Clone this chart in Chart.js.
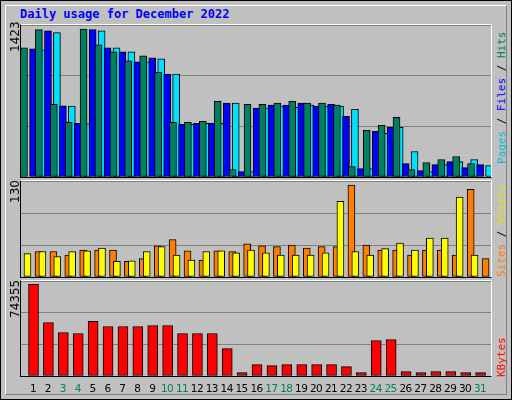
<!DOCTYPE html>
<html>
<head>
<meta charset="utf-8">
<script src="https://cdn.jsdelivr.net/npm/chart.js@4"></script>
<style>
  body { margin: 0; background: #fff; }
  #frame { position: absolute; left: 0; top: 0; width: 510px; height: 398px; background: #c0c0c0; border: 1px solid #000; }
  #inner { position: absolute; left: 4px; top: 4px; width: 502px; height: 390px; border-top: 1px solid #fff; border-left: 1px solid #fff; border-right: 1px solid #808080; border-bottom: 1px solid #808080; box-sizing: border-box; }
  .panel { position: absolute; left: 20px; width: 470px; border-left: 1px solid #000; border-top: 1px solid #fff; border-right: 1px solid #fff; border-bottom: 1px solid #000; }
  .txt { position: absolute; font-family: "DejaVu Sans Mono", monospace; font-size: 11px; white-space: nowrap; }
  .rot { transform-origin: left top; transform: rotate(-90deg); }
  .day { position: absolute; top: 382px; width: 20px; margin-left: -10px; text-align: center; font-family: "DejaVu Sans", sans-serif; font-size: 10.5px; letter-spacing: -0.6px; }
</style>
</head>
<body>
<div id="frame"><div id="inner"></div></div>
<div class="txt" style="left:20px;top:7px;color:#0000ff;font-weight:bold;font-size:12px;">Daily usage for December 2022</div>
<div class="panel" style="top:24px;height:152px;"><canvas id="c1"></canvas></div>
<div class="panel" style="top:180px;height:96px;"><canvas id="c2"></canvas></div>
<div class="panel" style="top:280px;height:95px;"><canvas id="c3"></canvas></div>
<div class="txt rot" style="left:8px;top:52px;font-family:'DejaVu Sans',sans-serif;font-size:12px;">1423</div>
<div class="txt rot" style="left:8px;top:203px;font-family:'DejaVu Sans',sans-serif;font-size:12px;">130</div>
<div class="txt rot" style="left:8px;top:318px;font-family:'DejaVu Sans',sans-serif;font-size:12px;">74355</div>
<div class="txt rot" style="left:495px;top:164px;"><span style="color:#00c0d0">Pages</span> / <span style="color:#0000ff">Files</span> / <span style="color:#008060">Hits</span></div>
<div class="txt rot" style="left:495px;top:277px;"><span style="color:#ff8000">Sites</span> / <span style="color:#e0e000">Visits</span></div>
<div class="txt rot" style="left:495px;top:377px;color:#ff0000;">KBytes</div>
<div id="days"></div>
<script>
const days = [1,2,3,4,5,6,7,8,9,10,11,12,13,14,15,16,17,18,19,20,21,22,23,24,25,26,27,28,29,30,31];
const weekendDays = [3,4,10,11,17,18,24,25,31];
const hits = [1242,1417,700,526,1423,1271,1204,1117,1165,1010,526,526,536,729,71,700,700,710,729,710,710,691,100,449,497,574,71,139,168,197,129];
const files = [1233,1407,684,516,1417,1242,1204,1107,1146,991,507,516,516,710,52,662,691,691,710,681,700,584,81,439,478,129,61,119,148,90,119];
const pages = [1223,1388,681,513,1407,1242,1204,1107,1136,991,507,516,516,710,52,662,681,671,691,681,681,652,81,420,478,245,52,119,148,168,110];
const sites = [33,36,29,36,37,41,22,23,36,43,31,24,36,37,34,38,34,31,31,31,34,107,36,31,40,48,38,55,55,113,31];
const visits = [36,36,31,38,38,38,22,26,44,53,37,24,37,36,47,44,43,45,41,43,43,130,45,38,38,31,38,38,31,124,26];
const kbytes = [74355,43420,35280,34470,44240,40170,40170,40170,40980,40980,34470,34470,34470,22250,2710,9230,8410,9230,9230,9230,9230,7600,2710,28770,29580,3530,2710,3530,3530,2710,2710];

// day labels under the bottom panel
let dayHTML = '';
days.forEach(d => {
  const color = weekendDays.includes(d) ? '#008060' : '#000';
  dayHTML += `<div class="day" style="left:${33 + (d - 1) * 14.9}px;color:${color}">${d}</div>`;
});
document.getElementById('days').innerHTML = dayHTML;

const xMin = 0.06, xMax = 31.6;

// a larger shift moves the axis window right, so bars land further left
function xAxis(shift) {
  return { type: 'linear', display: false, min: xMin + shift, max: xMax + shift, offset: false };
}

function bars(label, data, color, axis, width) {
  return {
    label, data: data.map((v, i) => ({x: days[i], y: v})),
    backgroundColor: color, borderColor: '#000', borderWidth: 1,
    borderSkipped: false, barThickness: width, xAxisID: axis
  };
}

function panel(id, datasets, xScales, yMax) {
  const scales = Object.assign({}, xScales, {
    y: {
      min: 0, max: yMax,
      ticks: { display: false, stepSize: yMax / 3 },
      grid: { color: '#808080', drawTicks: false, lineWidth: 1 },
      border: { display: false }
    }
  });
  new Chart(document.getElementById(id), {
    type: 'bar',
    data: { datasets },
    options: {
      responsive: true, maintainAspectRatio: false, animation: false, devicePixelRatio: 1,
      layout: { padding: 0 },
      plugins: { legend: { display: false }, tooltip: { enabled: false } },
      scales
    }
  });
}

panel('c1', [
  bars('Hits', hits, '#008060', 'xh', 7),
  bars('Files', files, '#0000ff', 'xf', 7),
  bars('Pages', pages, '#00e0ff', 'xp', 7)
], { xh: xAxis(0.27), xf: xAxis(0.13), xp: xAxis(0) }, 1462);

panel('c2', [
  bars('Sites', sites, '#ffff00', 'xs', 7),
  bars('Visits', visits, '#ff8000', 'xv', 7)
], { xs: xAxis(0.27), xv: xAxis(0) }, 135.6);

panel('c3', [
  bars('KBytes', kbytes, '#ff0000', 'xk', 10)
], { xk: xAxis(0.1) }, 77040);
</script>
</body>
</html>
